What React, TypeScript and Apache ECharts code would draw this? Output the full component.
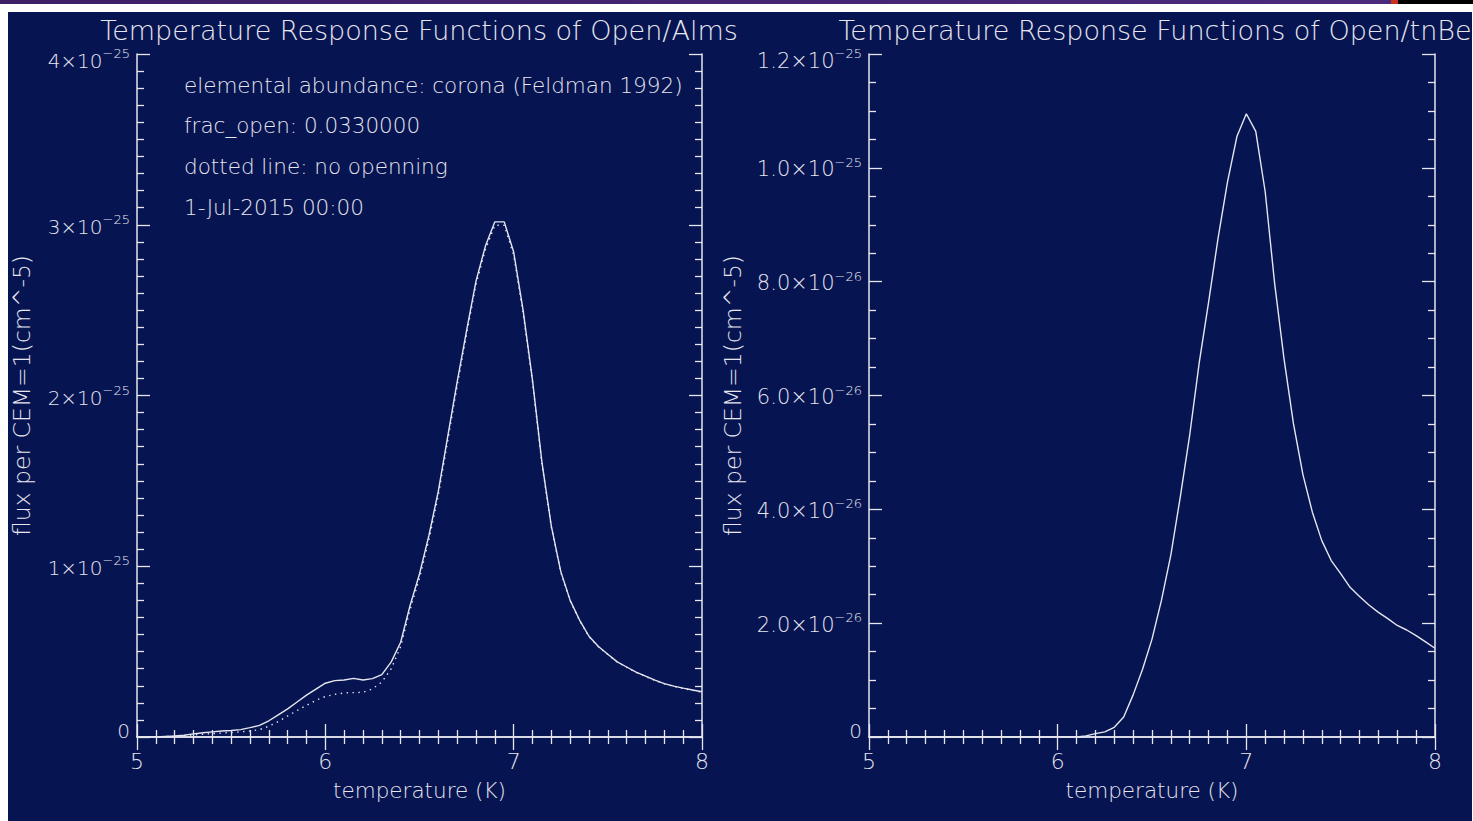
import React, { useEffect, useRef } from 'react';
import * as echarts from 'echarts';

// log10 temperature grid (K)
const temperatures = [
  5.00, 5.05, 5.10, 5.15, 5.20, 5.25, 5.30, 5.35, 5.40, 5.45,
  5.50, 5.55, 5.60, 5.65, 5.70, 5.75, 5.80, 5.85, 5.90, 5.95,
  6.00, 6.05, 6.10, 6.15, 6.20, 6.25, 6.30, 6.35, 6.40, 6.45,
  6.50, 6.55, 6.60, 6.65, 6.70, 6.75, 6.80, 6.85, 6.90, 6.95,
  7.00, 7.05, 7.10, 7.15, 7.20, 7.25, 7.30, 7.35, 7.40, 7.45,
  7.50, 7.55, 7.60, 7.65, 7.70, 7.75, 7.80, 7.85, 7.90, 7.95,
  8.00,
];

// Open/Alms response, in units of 1e-25, with opening (solid)
const almsOpen = [
  0, 0, 0, 0.003, 0.006, 0.01, 0.018, 0.025, 0.03, 0.035,
  0.038, 0.043, 0.055, 0.068, 0.095, 0.13, 0.165, 0.205, 0.245, 0.28,
  0.315, 0.33, 0.334, 0.343, 0.334, 0.342, 0.365, 0.44, 0.555, 0.77,
  0.955, 1.18, 1.44, 1.76, 2.08, 2.38, 2.67, 2.875, 3.017, 3.017,
  2.84, 2.50, 2.09, 1.61, 1.235, 0.97, 0.80, 0.685, 0.59, 0.53,
  0.485, 0.44, 0.41, 0.38, 0.357, 0.333, 0.313, 0.298, 0.286, 0.275,
  0.265,
];

// Open/Alms response, in units of 1e-25, no opening (dotted)
const almsNoOpen = [
  0, 0, 0, 0.002, 0.004, 0.008, 0.012, 0.016, 0.02, 0.023,
  0.026, 0.03, 0.035, 0.043, 0.063, 0.09, 0.123, 0.155, 0.185, 0.215,
  0.237, 0.25, 0.258, 0.26, 0.262, 0.282, 0.322, 0.40, 0.53, 0.745,
  0.93, 1.155, 1.415, 1.735, 2.055, 2.36, 2.65, 2.855, 2.997, 2.997,
  2.822, 2.485, 2.078, 1.60, 1.228, 0.965, 0.796, 0.682, 0.587, 0.528,
  0.483, 0.438, 0.408, 0.378, 0.355, 0.331, 0.311, 0.296, 0.284, 0.273,
  0.263,
];

// Open/tnBe response, in units of 1e-26
const tnBe = [
  0, 0, 0, 0, 0, 0, 0, 0, 0, 0,
  0, 0, 0, 0, 0, 0, 0, 0, 0, 0,
  0, 0, 0, 0.02, 0.06, 0.09, 0.17, 0.35, 0.74, 1.19,
  1.72, 2.40, 3.20, 4.22, 5.31, 6.57, 7.64, 8.76, 9.75, 10.55,
  10.95, 10.64, 9.58, 7.97, 6.64, 5.50, 4.61, 3.95, 3.45, 3.10,
  2.87, 2.63, 2.47, 2.32, 2.19, 2.08, 1.96, 1.88, 1.78, 1.67,
  1.56,
];

const titles = [
  'Temperature Response Functions of Open/Alms',
  'Temperature Response Functions of Open/tnBe',
];
const notes = [
  'elemental abundance: corona (Feldman 1992)',
  'frac_open: 0.0330000',
  'dotted line: no openning',
  '1-Jul-2015 00:00',
];
const xAxisName = 'temperature (K)';
const yAxisName = 'flux per CEM=1(cm^-5)';

const FONT = 'DejaVu Sans';
const FW = 200;
const FG = '#e6e6ee';
const BG = '#061452';

const tok = (fontSize: number, lineHeight: number, padBottom: number) => ({
  fontSize, lineHeight, padding: [0, 0, padBottom, 0], verticalAlign: 'bottom', color: FG, fontFamily: FONT, fontWeight: FW,
});

const richStyles = (mainSize: number) => ({
  m: tok(mainSize, 20, 0),
  e: tok(13, 24, 11),
  mt: tok(mainSize, 20, 0),
  et: tok(13, 34, 11),
  z: tok(20, 20, 6.5),
});

function leftYLabel(v: number) {
  if (v === 0) return '{z|0}';
  const top = v === 4;
  return top ? `{mt|${v}×10}{et|−25}` : `{m|${v}×10}{e|−25}`;
}
function rightYLabel(v: number) {
  if (v === 0) return '{z|0}';
  const top = v === 12;
  let mant: string;
  let exp: string;
  if (v < 10) { mant = v.toFixed(1); exp = '−26'; } else { mant = (v / 10).toFixed(1); exp = '−25'; }
  return top ? `{mt|${mant}×10}{et|${exp}}` : `{m|${mant}×10}{e|${exp}}`;
}

const axisLineStyle = { color: FG, width: 1.5 };

function xAxes(gridIndex: number) {
  const common = {
    type: 'value', gridIndex, min: 5, max: 8, interval: 1,
    axisLine: { show: true, lineStyle: axisLineStyle },
    axisTick: { show: true, inside: true, length: 13, lineStyle: { color: FG, width: 1.3 } },
    minorTick: { show: true, splitNumber: 10, length: 7, lineStyle: { color: FG, width: 1.3 } },
    splitLine: { show: false },
    minorSplitLine: { show: false },
  };
  return [
    {
      ...common, position: 'bottom',
      axisLabel: { show: true, margin: 13, fontSize: 22, color: FG, fontFamily: FONT, fontWeight: FW, formatter: (v: number) => String(v) },
      name: xAxisName, nameLocation: 'middle', nameGap: 42,
      nameTextStyle: { fontSize: 21.5, color: FG, fontFamily: FONT, fontWeight: FW },
    },
    { ...common, position: 'top', axisLabel: { show: false } },
  ];
}

function yAxes(gridIndex: number, max: number, interval: number, minorSplit: number, fmt: (v: number) => string, mainSize: number, nameGap: number) {
  const common = {
    type: 'value', gridIndex, min: 0, max, interval,
    axisLine: { show: true, lineStyle: axisLineStyle },
    axisTick: { show: true, inside: true, length: 13, lineStyle: { color: FG, width: 1.3 } },
    minorTick: { show: true, splitNumber: minorSplit, length: 7, lineStyle: { color: FG, width: 1.3 } },
    splitLine: { show: false },
    minorSplitLine: { show: false },
  };
  return [
    {
      ...common, position: 'left',
      axisLabel: { show: true, margin: 7, formatter: fmt, rich: richStyles(mainSize) },
      name: yAxisName, nameLocation: 'middle', nameRotate: 90, nameGap,
      nameTextStyle: { fontSize: 23.5, color: FG, fontFamily: FONT, fontWeight: FW },
    },
    { ...common, position: 'right', axisLabel: { show: false } },
  ];
}

export default function App() {
  const ref = useRef<HTMLDivElement>(null);

  useEffect(() => {
    if (!ref.current) return;
    const chart = echarts.init(ref.current, undefined, { renderer: 'svg' });
    const pairs = (arr: number[]) => temperatures.map((t, i) => [t, arr[i]]);

    const option = {
      animation: false,
      backgroundColor: BG,
      textStyle: { fontFamily: FONT, color: FG, fontWeight: FW },
      grid: [
        { left: 129, top: 42, width: 565, height: 683 },
        { left: 861, top: 42, width: 566, height: 683 },
      ],
      xAxis: [...xAxes(0), ...xAxes(1)],
      yAxis: [
        ...yAxes(0, 4, 1, 10, leftYLabel, 20, 103),
        ...yAxes(1, 12, 2, 4, rightYLabel, 21, 124),
      ],
      series: [
        {
          type: 'line', xAxisIndex: 0, yAxisIndex: 0, data: pairs(almsOpen),
          showSymbol: false, symbol: 'none', lineStyle: { color: FG, width: 1.4 },
        },
        {
          type: 'line', xAxisIndex: 0, yAxisIndex: 0, data: pairs(almsNoOpen),
          showSymbol: false, symbol: 'none', lineStyle: { color: FG, width: 1.4, type: [1.4, 4.5] },
        },
        {
          type: 'line', xAxisIndex: 2, yAxisIndex: 2, data: pairs(tnBe),
          showSymbol: false, symbol: 'none', lineStyle: { color: FG, width: 1.4 },
        },
      ],
      graphic: [
        {
          type: 'text', x: 411, y: 18,
          style: { text: titles[0], fill: FG, fontSize: 27, fontFamily: FONT, fontWeight: FW, align: 'center', verticalAlign: 'middle' },
        },
        {
          type: 'text', x: 1147, y: 18,
          style: { text: titles[1], fill: FG, fontSize: 27, fontFamily: FONT, fontWeight: FW, align: 'center', verticalAlign: 'middle' },
        },
        ...notes.map((t, i) => ({
          type: 'text', x: 176, y: 73 + i * 40.7,
          style: { text: t, fill: FG, fontSize: 21.5, fontFamily: FONT, fontWeight: FW, align: 'left', verticalAlign: 'middle' },
        })),
      ],
    };
    chart.setOption(option as any);
    return () => chart.dispose();
  }, []);

  return (
    <div style={{ position: 'fixed', left: 0, top: 0, width: 1473, height: 821, background: '#ffffff', overflow: 'hidden' }}>
      <div style={{ position: 'absolute', left: 0, top: 0, width: 1391, height: 4, background: 'linear-gradient(to right, #3d1f66, #4b2a7c)' }} />
      <div style={{ position: 'absolute', left: 1391, top: 0, width: 7, height: 4, background: '#c8321e' }} />
      <div style={{ position: 'absolute', left: 1398, top: 0, width: 75, height: 4, background: '#000000' }} />
      <div ref={ref} style={{ position: 'absolute', left: 8, top: 12, width: 1464, height: 809 }} />
    </div>
  );
}
